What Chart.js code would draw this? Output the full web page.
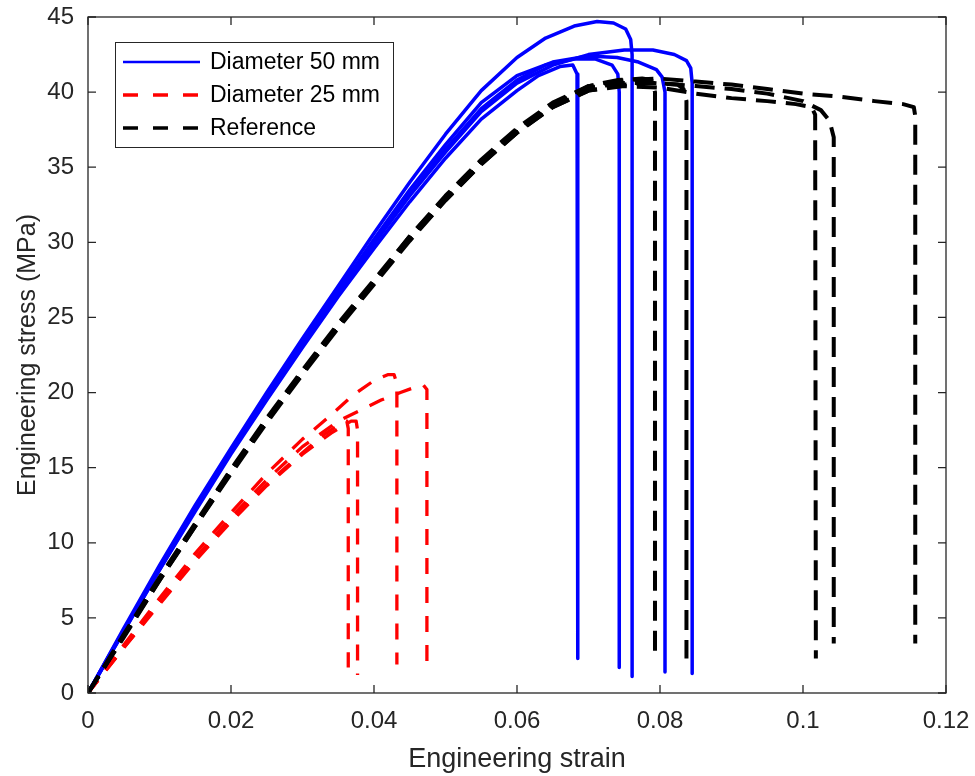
<!DOCTYPE html>
<html lang="en">
<head>
<meta charset="UTF-8">
<title>Engineering stress-strain</title>
<script src="https://cdn.jsdelivr.net/npm/chart.js@4.4.0/dist/chart.umd.min.js"></script>
<style>
    body { margin: 0; background: #fff; }
    canvas { display: block; }
</style>
</head>
<body>
<canvas id="myChart" width="975" height="776"></canvas>
<script>

    // Diameter 50 mm specimens (5 tests), strain / stress in MPa
    var d50Strain = [
        [0, 0.005, 0.01, 0.015, 0.02, 0.025, 0.03, 0.035, 0.04, 0.045, 0.05, 0.055, 0.06, 0.063, 0.066, 0.0678, 0.0684, 0.0685],
        [0, 0.005, 0.01, 0.015, 0.02, 0.025, 0.03, 0.035, 0.04, 0.045, 0.05, 0.055, 0.06, 0.064, 0.068, 0.071, 0.0733, 0.0741, 0.0743, 0.0743],
        [0, 0.005, 0.01, 0.015, 0.02, 0.025, 0.03, 0.035, 0.04, 0.045, 0.05, 0.055, 0.06, 0.064, 0.068, 0.0712, 0.0735, 0.0752, 0.0759, 0.0761, 0.0761],
        [0, 0.005, 0.01, 0.015, 0.02, 0.025, 0.03, 0.035, 0.04, 0.045, 0.05, 0.055, 0.06, 0.065, 0.07, 0.074, 0.077, 0.0795, 0.0803, 0.0807, 0.0807],
        [0, 0.005, 0.01, 0.015, 0.02, 0.025, 0.03, 0.035, 0.04, 0.045, 0.05, 0.055, 0.06, 0.065, 0.07, 0.075, 0.079, 0.082, 0.0837, 0.0843, 0.0845, 0.0845]
    ];
    var d50Stress = [
        [0, 4.1, 8.2, 12.1, 15.9, 19.5, 23.0, 26.4, 29.6, 32.7, 35.6, 38.2, 40.1, 41.1, 41.7, 41.8, 41.2, 2.3],
        [0, 4.2, 8.3, 12.3, 16.1, 19.7, 23.2, 26.7, 30.0, 33.2, 36.2, 38.9, 40.8, 41.8, 42.2, 42.2, 41.8, 41.2, 40.0, 1.7],
        [0, 4.3, 8.5, 12.5, 16.3, 20.0, 23.6, 27.1, 30.6, 34.0, 37.2, 40.1, 42.3, 43.6, 44.4, 44.7, 44.6, 44.2, 43.5, 42.5, 1.1],
        [0, 4.2, 8.3, 12.3, 16.1, 19.8, 23.3, 26.8, 30.2, 33.5, 36.5, 39.3, 41.1, 42.0, 42.4, 42.3, 42.0, 41.5, 41.0, 40.0, 1.4],
        [0, 4.1, 8.2, 12.2, 16.0, 19.6, 23.1, 26.6, 29.9, 33.1, 36.0, 38.7, 40.6, 41.8, 42.5, 42.8, 42.8, 42.5, 42.1, 41.6, 40.6, 1.3]
    ];

    // Diameter 25 mm specimens (4 tests)
    var d25Strain = [
        [0, 0.005, 0.01, 0.015, 0.02, 0.025, 0.03, 0.033, 0.0355, 0.0362, 0.0364, 0.0364],
        [0, 0.005, 0.01, 0.015, 0.02, 0.025, 0.03, 0.034, 0.0368, 0.0375, 0.0377, 0.0377],
        [0, 0.005, 0.01, 0.015, 0.02, 0.025, 0.03, 0.0335, 0.037, 0.04, 0.042, 0.0428, 0.0432, 0.0432],
        [0, 0.005, 0.01, 0.015, 0.02, 0.025, 0.03, 0.035, 0.038, 0.041, 0.0437, 0.046, 0.0469, 0.0474, 0.0474]
    ];
    var d25Stress = [
        [0, 3.0, 6.0, 8.9, 11.5, 13.9, 16.0, 17.2, 18.0, 18.1, 17.6, 1.7],
        [0, 3.0, 5.9, 8.8, 11.4, 13.8, 15.9, 17.3, 18.1, 18.1, 17.5, 1.2],
        [0, 3.2, 6.3, 9.3, 12.0, 14.6, 16.9, 18.3, 19.8, 20.8, 21.2, 21.2, 20.6, 1.9],
        [0, 3.1, 6.1, 9.0, 11.7, 14.2, 16.4, 18.1, 18.8, 19.5, 20.0, 20.4, 20.5, 20.2, 2.0]
    ];

    // Reference specimens (5 tests)
    var refStrain = [
        [0, 0.005, 0.01, 0.015, 0.02, 0.025, 0.03, 0.035, 0.04, 0.045, 0.05, 0.055, 0.06, 0.065, 0.07, 0.074, 0.0775, 0.0788, 0.0793, 0.0793],
        [0, 0.005, 0.01, 0.015, 0.02, 0.025, 0.03, 0.035, 0.04, 0.045, 0.05, 0.055, 0.06, 0.065, 0.07, 0.075, 0.079, 0.0825, 0.0833, 0.0837, 0.0837],
        [0, 0.005, 0.01, 0.015, 0.02, 0.025, 0.03, 0.035, 0.04, 0.045, 0.05, 0.055, 0.06, 0.065, 0.07, 0.075, 0.08, 0.085, 0.09, 0.095, 0.1, 0.105, 0.11, 0.114, 0.1155, 0.1157, 0.1157],
        [0, 0.005, 0.01, 0.015, 0.02, 0.025, 0.03, 0.035, 0.04, 0.045, 0.05, 0.055, 0.06, 0.065, 0.07, 0.075, 0.08, 0.085, 0.09, 0.095, 0.099, 0.1012, 0.1017, 0.1018],
        [0, 0.005, 0.01, 0.015, 0.02, 0.025, 0.03, 0.035, 0.04, 0.045, 0.05, 0.055, 0.06, 0.065, 0.07, 0.075, 0.08, 0.085, 0.09, 0.095, 0.1, 0.1025, 0.1037, 0.1043, 0.1043]
    ];
    var refStress = [
        [0, 3.9, 7.7, 11.3, 14.9, 18.3, 21.5, 24.6, 27.5, 30.4, 33.1, 35.5, 37.6, 39.3, 40.4, 40.8, 40.9, 40.8, 40.0, 2.5],
        [0, 3.8, 7.5, 11.1, 14.7, 18.1, 21.3, 24.4, 27.3, 30.2, 32.8, 35.2, 37.3, 39.0, 40.1, 40.5, 40.6, 40.5, 40.2, 39.4, 2.3],
        [0, 3.8, 7.6, 11.2, 14.8, 18.2, 21.4, 24.5, 27.4, 30.4, 33.0, 35.4, 37.5, 39.2, 40.4, 40.8, 40.9, 40.7, 40.5, 40.2, 39.9, 39.7, 39.4, 39.2, 39.0, 38.4, 3.3],
        [0, 3.7, 7.5, 11.1, 14.6, 18.0, 21.2, 24.3, 27.2, 30.1, 32.8, 35.2, 37.3, 39.0, 40.1, 40.4, 40.3, 39.9, 39.6, 39.4, 39.2, 39.0, 38.5, 2.3],
        [0, 3.8, 7.6, 11.2, 14.8, 18.2, 21.4, 24.5, 27.4, 30.3, 32.9, 35.3, 37.4, 39.1, 40.3, 40.6, 40.6, 40.4, 40.2, 39.9, 39.4, 38.8, 38.1, 37.0, 3.3]
    ];

    var xTickVals = [0, 0.02, 0.04, 0.06, 0.08, 0.1, 0.12];
    var xTickLabels = ['0', '0.02', '0.04', '0.06', '0.08', '0.1', '0.12'];
    var yTickVals = [0, 5, 10, 15, 20, 25, 30, 35, 40, 45];

    var seriesNames = ['Diameter 50 mm', 'Diameter 25 mm', 'Reference'];
    var seriesColors = ['#0000ff', '#ff0000', '#000000'];

    var axisColor = '#262626';
    var fontFamily = "'Liberation Sans', Arial, sans-serif";

    function toPoints(xs, ys)
    {
        var pts = [];
        for (var i = 0; i < xs.length; i++) {
            pts.push({x: xs[i], y: ys[i]});
        }
        return pts;
    }

    function makeSets(strains, stresses, color, width, dash)
    {
        return strains.map(function(s, i) {
            return {
                data: toPoints(s, stresses[i]),
                borderColor: color,
                borderWidth: width,
                borderDash: dash,
                borderJoinStyle: 'round',
                pointRadius: 0,
                showLine: true,
                fill: false,
                tension: 0
            };
        });
    }

    // black on top, then red, then blue
    var datasets = []
        .concat(makeSets(refStrain, refStress, seriesColors[2], 4, [20, 10]))
        .concat(makeSets(d25Strain, d25Stress, seriesColors[1], 3.3, [16, 13]))
        .concat(makeSets(d50Strain, d50Stress, seriesColors[0], 3.5, []));

    // fixed axis sizes, and no extra padding for the edge labels
    function fixSize(scale, w, h)
    {
        if (w) scale.width = w;
        if (h) scale.height = h;
        scale.paddingLeft = 0;
        scale.paddingRight = 0;
        scale.paddingTop = 0;
        scale.paddingBottom = 0;
    }

    // box round the axes with inward ticks, like the matlab figure
    var boxTicks = {
        id: 'boxTicks',
        afterDatasetsDraw: function(chart) {
            var ctx = chart.ctx;
            var a = chart.chartArea;
            var xs = chart.scales.x, ys = chart.scales.y;
            var len = 8;
            ctx.save();
            ctx.strokeStyle = axisColor;
            ctx.lineWidth = 1.3;
            ctx.beginPath();
            xTickVals.forEach(function(v) {
                var p = xs.getPixelForValue(v);
                ctx.moveTo(p, a.bottom); ctx.lineTo(p, a.bottom - len);
                ctx.moveTo(p, a.top); ctx.lineTo(p, a.top + len);
            });
            yTickVals.forEach(function(v) {
                var p = ys.getPixelForValue(v);
                ctx.moveTo(a.left, p); ctx.lineTo(a.left + len, p);
                ctx.moveTo(a.right, p); ctx.lineTo(a.right - len, p);
            });
            ctx.stroke();
            ctx.strokeRect(a.left, a.top, a.right - a.left, a.bottom - a.top);
            ctx.restore();
        }
    };

    var legendBox = {
        id: 'legendBox',
        afterDraw: function(chart) {
            var ctx = chart.ctx;
            var rows = [62, 95, 128];
            var dashes = [[], [15, 15], [15, 15]];
            var widths = [2.6, 3.3, 3.3];
            ctx.save();
            ctx.fillStyle = '#ffffff';
            ctx.fillRect(115, 42, 278, 105);
            ctx.strokeStyle = axisColor;
            ctx.lineWidth = 1;
            ctx.strokeRect(115.5, 42.5, 278, 105);
            for (var i = 0; i < seriesNames.length; i++) {
                ctx.beginPath();
                ctx.setLineDash(dashes[i]);
                ctx.strokeStyle = seriesColors[i];
                ctx.lineWidth = widths[i];
                ctx.moveTo(123, rows[i]);
                ctx.lineTo(200, rows[i]);
                ctx.stroke();
                ctx.setLineDash([]);
                ctx.fillStyle = '#000000';
                ctx.font = '23px ' + fontFamily;
                ctx.textBaseline = 'middle';
                ctx.textAlign = 'left';
                ctx.fillText(seriesNames[i], 210, rows[i] + 1);
            }
            ctx.restore();
        }
    };

    function chartIt()
    {
        var ctx = document.getElementById('myChart').getContext('2d');
        var myChart = new Chart(ctx, {
            type: 'scatter',
            data: { datasets: datasets },
            options: {
                responsive: false,
                animation: false,
                layout: { padding: { top: 17, right: 29, bottom: 0, left: 0 } },
                plugins: {
                    legend: { display: false },
                    tooltip: { enabled: false }
                },
                scales: {
                    x: {
                        type: 'linear',
                        min: 0,
                        max: 0.12,
                        afterBuildTicks: function(scale) {
                            scale.ticks = xTickVals.map(function(v) { return {value: v}; });
                        },
                        afterFit: function(scale) { fixSize(scale, 0, 83); },
                        grid: { display: false, drawTicks: false },
                        border: { display: false },
                        ticks: {
                            padding: 14,
                            maxRotation: 0,
                            color: axisColor,
                            font: { family: fontFamily, size: 24 },
                            callback: function(v, i) { return xTickLabels[i]; }
                        },
                        title: {
                            display: true,
                            text: 'Engineering strain',
                            color: axisColor,
                            font: { family: fontFamily, size: 27 },
                            padding: { top: 0, bottom: 0 }
                        }
                    },
                    y: {
                        type: 'linear',
                        min: 0,
                        max: 45,
                        afterBuildTicks: function(scale) {
                            scale.ticks = yTickVals.map(function(v) { return {value: v}; });
                        },
                        afterFit: function(scale) { fixSize(scale, 88, 0); },
                        grid: { display: false, drawTicks: false },
                        border: { display: false },
                        ticks: {
                            padding: 14,
                            color: axisColor,
                            font: { family: fontFamily, size: 24 }
                        },
                        title: {
                            display: true,
                            text: 'Engineering stress (MPa)',
                            color: axisColor,
                            font: { family: fontFamily, size: 25 },
                            padding: { top: 13, bottom: 0 }
                        }
                    }
                }
            },
            plugins: [boxTicks, legendBox]
        });
    }

    chartIt();
</script>
</body>
</html>
